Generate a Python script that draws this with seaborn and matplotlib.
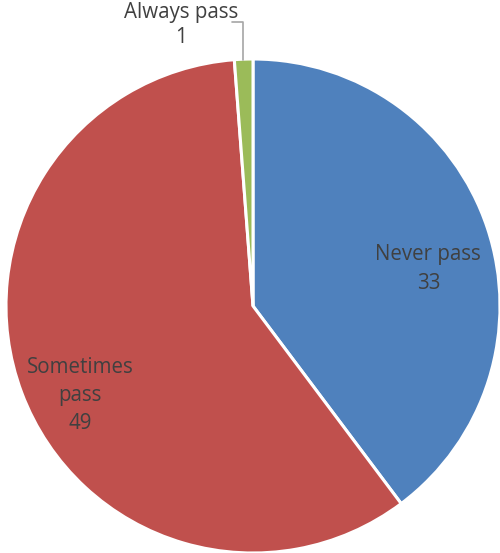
import matplotlib
matplotlib.use("Agg")
import matplotlib.pyplot as plt
import seaborn as sns

categories = ["Never pass", "Sometimes pass", "Always pass"]
values = [33, 49, 1]
colors = ["#4F81BD", "#C0504D", "#9BBB59"]

sns.set_theme(style="white")
plt.rcParams["font.family"] = ["Open Sans", "DejaVu Sans"]

W, H = 500, 553
fig = plt.figure(figsize=(W / 100, H / 100), dpi=100)
cx, cy, r = 253, 306, 247
ax = fig.add_axes([(cx - r) / W, (H - cy - r) / H, 2 * r / W, 2 * r / H])

wedges, _ = ax.pie(values, colors=colors, startangle=90, counterclock=False,
                   radius=1.0, wedgeprops=dict(edgecolor="white", linewidth=2.2))
ax.set_xlim(-1, 1)
ax.set_ylim(-1, 1)
ax.set_aspect("equal")
ax.axis("off")

txt = "#404040"
fs = 14.8
ax.text(0.71, 0.15, f"{categories[0]}\n{values[0]}", ha="center", va="center",
        color=txt, fontsize=fs, linespacing=1.45)
ax.text(-0.70, -0.362, "Sometimes\npass\n" + str(values[1]), ha="center", va="center",
        color=txt, fontsize=fs, linespacing=1.45)
ax.text(-0.29, 1.138, f"{categories[2]}\n{values[2]}", ha="center", va="center",
        color=txt, fontsize=fs, linespacing=1.3, clip_on=False)
ax.plot([-0.04, -0.04, -0.085], [0.997, 1.15, 1.15], color="#A6A6A6", lw=1.2,
        clip_on=False)

fig.savefig("out.png", dpi=100)
